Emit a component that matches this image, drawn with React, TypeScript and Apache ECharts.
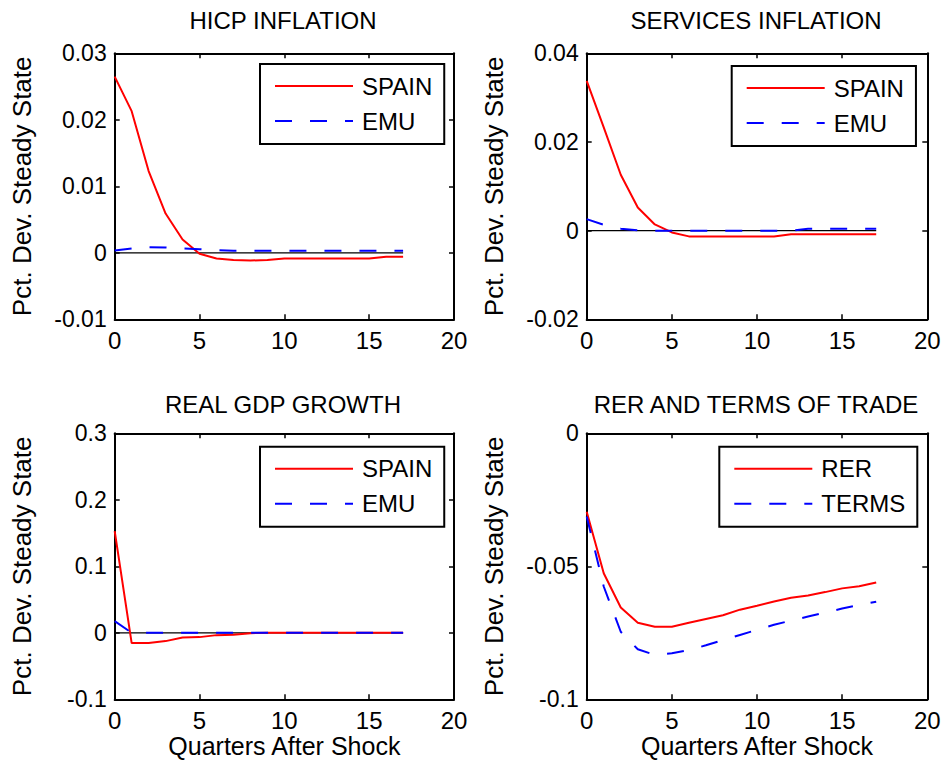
import React, { useEffect, useRef } from 'react';
import * as echarts from 'echarts';

const QUARTERS = [0, 1, 2, 3, 4, 5, 6, 7, 8, 9, 10, 11, 12, 13, 14, 15, 16, 17];

const PANEL_TITLES = ['HICP INFLATION', 'SERVICES INFLATION', 'REAL GDP GROWTH', 'RER AND TERMS OF TRADE'];
const Y_LABEL = 'Pct. Dev. Steady State';
const X_LABEL = 'Quarters After Shock';

const HICP_SPAIN = [0.0265, 0.0213, 0.0123, 0.0059, 0.002, -0.00015, -0.00085, -0.0011, -0.00115, -0.0011, -0.00085, -0.00085, -0.00085, -0.00085, -0.00085, -0.00085, -0.0006, -0.0006];
const HICP_EMU = [0.00035, 0.00065, 0.00085, 0.0008, 0.00065, 0.00055, 0.0004, 0.0003, 0.0003, 0.0003, 0.0003, 0.0003, 0.0003, 0.0003, 0.0003, 0.0003, 0.0003, 0.0003];

const SERV_SPAIN = [0.0338, 0.0233, 0.0126, 0.0052, 0.0014, -0.0004, -0.0013, -0.0013, -0.0013, -0.0013, -0.0013, -0.0013, -0.0008, -0.0008, -0.0008, -0.0008, -0.0008, -0.0008];
const SERV_EMU = [0.0026, 0.0013, 0.00045, 0.0001, 0, 0, 0, 0, 0, 0, 0, 0, 0, 0.0004, 0.00045, 0.00045, 0.00045, 0.00045];

const GDP_SPAIN = [0.153, -0.0155, -0.0155, -0.0125, -0.007, -0.0065, -0.0035, -0.003, -0.0005, 0, 0, 0, 0, 0, 0, 0, 0, 0];
const GDP_EMU = [0.0175, 0, 0, 0, 0, 0, 0, 0, 0, 0, 0, 0, 0, 0, 0, 0, 0, 0];

const RER = [-0.0295, -0.0526, -0.0655, -0.0712, -0.0727, -0.0727, -0.0712, -0.0698, -0.0684, -0.0663, -0.0648, -0.0632, -0.0618, -0.061, -0.0597, -0.0583, -0.0575, -0.0561];
const TERMS = [-0.0313, -0.0576, -0.0746, -0.0812, -0.0833, -0.0827, -0.0815, -0.0797, -0.0777, -0.0758, -0.0739, -0.072, -0.0704, -0.0689, -0.0674, -0.0659, -0.0645, -0.0633];

const ZERO = [0, 0, 0, 0, 0, 0, 0, 0, 0, 0, 0, 0, 0, 0, 0, 0, 0, 0];

const Y_RANGES = [
  { min: -0.01, max: 0.03, interval: 0.01 },
  { min: -0.02, max: 0.04, interval: 0.02 },
  { min: -0.1, max: 0.3, interval: 0.1 },
  { min: -0.1, max: 0, interval: 0.05 },
];

const FONT = '"Liberation Sans", Arial, Helvetica, sans-serif';

const GRIDS = [
  { left: 114.7, top: 53.3, width: 339.3, height: 266 },
  { left: 586.7, top: 53.3, width: 340.6, height: 266 },
  { left: 114.7, top: 433.3, width: 339.3, height: 266 },
  { left: 586.7, top: 433.3, width: 340.6, height: 266 },
];

const LEGEND_POS = [
  { left: 260, top: 64 },
  { left: 731.7, top: 66 },
  { left: 260, top: 446.7 },
  { left: 719.3, top: 446.7 },
];

const TITLE_POS = [
  { x: 283, y: 20.5 },
  { x: 756, y: 20.5 },
  { x: 283, y: 404 },
  { x: 756, y: 404 },
];

function toPairs(vals: number[]) {
  return QUARTERS.map((q, i) => [q, vals[i]]);
}

export default function App() {
  const ref = useRef<HTMLDivElement>(null);

  useEffect(() => {
    if (!ref.current) return;
    const chart = echarts.init(ref.current, undefined, { renderer: 'svg' });

    const black = '#000000';
    const xAxes: any[] = [];
    const yAxes: any[] = [];
    GRIDS.forEach((_, i) => {
      const common = {
        type: 'value',
        gridIndex: i,
        min: 0,
        max: 20,
        interval: 5,
        splitLine: { show: false },
        axisLine: { show: true, onZero: false, lineStyle: { color: black, width: 2 } },
        axisTick: { show: true, inside: true, length: 5, lineStyle: { color: black, width: 1.5 } },
      };
      xAxes.push({
        ...common,
        position: 'bottom',
        axisLabel: { show: true, fontSize: 24, color: black, fontFamily: FONT, margin: 9 },
        name: i >= 2 ? X_LABEL : '',
        nameLocation: 'middle',
        nameGap: 34,
        nameTextStyle: { fontSize: 25, color: black, fontFamily: FONT },
      });
      xAxes.push({
        ...common,
        position: 'top',
        axisLabel: { show: false },
      });
      const yr = Y_RANGES[i];
      const ycommon = {
        type: 'value',
        gridIndex: i,
        min: yr.min,
        max: yr.max,
        interval: yr.interval,
        splitLine: { show: false },
        axisLine: { show: true, onZero: false, lineStyle: { color: black, width: 2 } },
        axisTick: { show: true, inside: true, length: 5, lineStyle: { color: black, width: 1.5 } },
      };
      yAxes.push({
        ...ycommon,
        position: 'left',
        axisLabel: { show: true, fontSize: 23, color: black, fontFamily: FONT, margin: 8 },
        name: Y_LABEL,
        nameLocation: 'middle',
        nameGap: 80,
        nameTextStyle: { fontSize: 26, color: black, fontFamily: FONT },
      });
      yAxes.push({
        ...ycommon,
        position: 'right',
        axisLabel: { show: false },
      });
    });

    const panels = [
      { a: 'SPAIN', b: 'EMU', av: HICP_SPAIN, bv: HICP_EMU, zero: true },
      { a: 'SPAIN', b: 'EMU', av: SERV_SPAIN, bv: SERV_EMU, zero: true },
      { a: 'SPAIN', b: 'EMU', av: GDP_SPAIN, bv: GDP_EMU, zero: true },
      { a: 'RER', b: 'TERMS', av: RER, bv: TERMS, zero: false },
    ];

    const series: any[] = [];
    const legends: any[] = [];
    panels.forEach((p, i) => {
      if (p.zero) {
        series.push({
          type: 'line',
          name: 'zero' + i,
          xAxisIndex: 2 * i,
          yAxisIndex: 2 * i,
          data: toPairs(ZERO),
          symbol: 'none',
          silent: true,
          lineStyle: { color: black, width: 1.3 },
          z: 1,
        });
      }
      series.push({
        type: 'line',
        name: p.a,
        xAxisIndex: 2 * i,
        yAxisIndex: 2 * i,
        data: toPairs(p.av),
        symbol: 'none',
        silent: true,
        itemStyle: { color: '#ff0000' },
        lineStyle: { color: '#ff0000', width: 2 },
        z: 2,
      });
      series.push({
        type: 'line',
        name: p.b,
        xAxisIndex: 2 * i,
        yAxisIndex: 2 * i,
        data: toPairs(p.bv),
        symbol: 'none',
        silent: true,
        itemStyle: { color: '#0000ff' },
        lineStyle: { color: '#0000ff', width: 2, type: [17, 18] },
        z: 3,
      });
      legends.push({
        show: true,
        orient: 'vertical',
        left: LEGEND_POS[i].left,
        top: LEGEND_POS[i].top,
        data: [p.a, p.b],
        padding: [10, 12, 11, 14],
        itemWidth: 78,
        itemHeight: 14,
        itemGap: 11,
        borderColor: black,
        borderWidth: 2,
        backgroundColor: '#ffffff',
        selectedMode: false,
        itemStyle: { opacity: 0 },
        textStyle: { fontSize: 24, color: black, fontFamily: FONT, padding: [0, 0, 0, 4] },
      });
    });

    const graphics = PANEL_TITLES.map((t, i) => ({
      type: 'text',
      x: TITLE_POS[i].x,
      y: TITLE_POS[i].y,
      style: {
        text: t,
        fontSize: 24,
        fontFamily: FONT,
        fill: black,
        align: 'center',
        verticalAlign: 'middle',
      },
    }));

    chart.setOption({
      animation: false,
      backgroundColor: '#ffffff',
      grid: GRIDS.map((g) => ({ ...g, containLabel: false, outerBoundsMode: 'none' })),
      xAxis: xAxes,
      yAxis: yAxes,
      legend: legends,
      series,
      graphic: graphics,
    });

    return () => {
      chart.dispose();
    };
  }, []);

  return (
    <div
      ref={ref}
      style={{ position: 'absolute', left: 0, top: 0, width: 942, height: 770, background: '#fff' }}
    />
  );
}
